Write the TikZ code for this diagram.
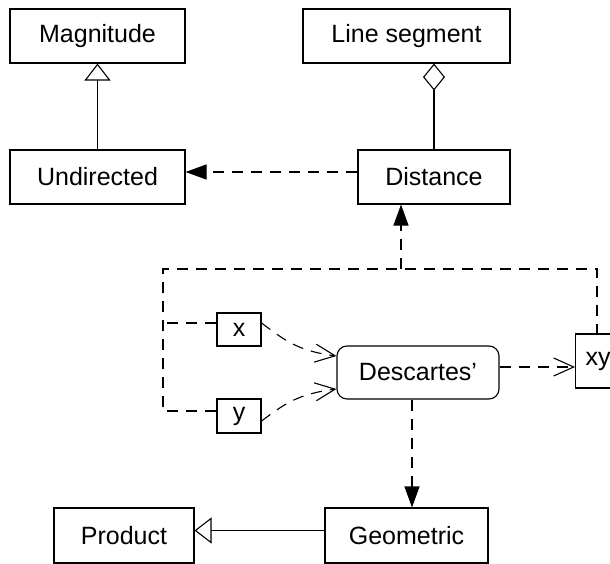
\documentclass[tikz,border=0pt]{standalone}
\usepackage{fontspec}
\setmainfont{Liberation Sans}
\usetikzlibrary{arrows.meta}
\begin{document}
\begin{tikzpicture}[x=1pt,y=-1pt,line width=1.1pt,
  box/.style={draw,inner sep=0pt,font=\fontsize{25}{30}\selectfont},
  dsh/.style={dash pattern=on 11pt off 8pt},
  filledtip/.style={-{Triangle[length=21pt,width=15pt]}},
  gentip/.style={-{Triangle[open,length=17pt,width=26pt,fill=white]}},
  aggtip/.style={-{Diamond[open,length=27pt,width=22pt,fill=white]}},
  opentip/.style={-{Straight Barb[length=20pt,width=18pt]}}]
\useasboundingbox (0,0) rectangle (610,564);
\node[box,minimum width=175pt,minimum height=54pt] (mag) at (97.5,36) {Magnitude};
\node[box,minimum width=207pt,minimum height=54pt] (ls) at (406.5,36) {Line segment};
\node[box,minimum width=175pt,minimum height=54pt] (und) at (97.5,177) {Undirected};
\node[box,minimum width=152pt,minimum height=54pt] (dist) at (434,177) {Distance};
\node[box,minimum width=44pt,minimum height=33pt] (xb) at (239,329.5) {x};
\node[box,minimum width=44pt,minimum height=34pt] (yb) at (239,416) {y};
\node[box,rounded corners=10pt,minimum width=162pt,minimum height=53pt] (desc) at (418,372.5) {Descartes’};
\node[box,anchor=west,minimum width=45pt,minimum height=54pt] (xy) at (575,361) {xy};
\node[box,minimum width=140pt,minimum height=55pt] (prod) at (124,535.5) {Product};
\node[box,minimum width=163pt,minimum height=55pt] (geo) at (406.5,535.5) {Geometric};
% generalizations and aggregation
\draw[gentip] (und.north) -- (mag.south);
\draw[aggtip] (dist.north) -- (ls.south -| dist.north);
\draw[gentip] ([yshift=5pt]geo.west) -- ([yshift=5pt]prod.east);
% dependencies
\draw[dsh,filledtip] ([yshift=5pt]dist.west) -- ([yshift=5pt]und.east);
\coordinate (jl) at (163,269);
\coordinate (jt) at (401,269);
\coordinate (jr) at (597,269);
\coordinate (dx) at (412,0);
\coordinate (xw) at ([yshift=6.5pt]xb.west);
\draw[dsh] ([yshift=5pt]yb.west) -| (jl) -- (jr) -- (xy.north -| jr);
\draw[dsh] (xw) -- (xw -| jl);
\draw[dsh,filledtip] (jt) -- (dist.south -| jt);
\draw[dsh,opentip] ([yshift=5.5pt]desc.east) -- ([yshift=5.5pt]desc.east -| xy.west);
\draw[dsh,filledtip] (desc.south -| dx) -- (geo.north -| dx);
\draw[dsh,opentip] ([yshift=6.5pt]xb.east) .. controls +(24,18) and +(-38,-5) .. ([yshift=16.5pt]desc.west);
\draw[dsh,opentip] ([yshift=-5pt]yb.east) .. controls +(24,-18) and +(-38,5) .. ([yshift=-16.5pt]desc.west);
\end{tikzpicture}
\end{document}
